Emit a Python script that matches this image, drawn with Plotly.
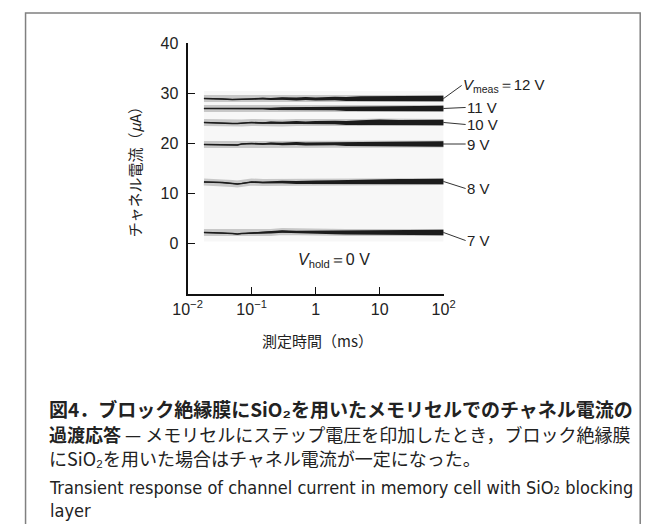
import plotly.graph_objects as go

# ---------------- data ----------------
time_ms = [0.018, 0.025, 0.035, 0.05, 0.06, 0.07, 0.1, 0.15, 0.2, 0.3, 0.5,
           0.7, 1, 2, 3, 5, 10, 20, 30, 50, 100]

series_labels = ["12 V", "11 V", "10 V", "9 V", "8 V", "7 V"]
i_12v = [29.0, 29.0, 28.9, 28.8, 28.8, 28.9, 28.9, 29.0, 28.9, 29.0, 28.9,
         29.0, 28.9, 29.0, 28.9, 29.0, 29.0, 29.0, 29.0, 29.0, 29.0]
i_11v = [27.0, 27.0, 27.0, 27.0, 27.0, 27.0, 27.0, 27.0, 26.9, 27.0, 27.0,
         26.9, 27.0, 27.0, 26.9, 27.0, 27.0, 27.0, 27.0, 27.0, 27.0]
i_10v = [24.2, 24.1, 24.1, 24.0, 24.0, 24.1, 24.2, 24.1, 24.2, 24.1, 24.2,
         24.1, 24.2, 24.2, 24.1, 24.2, 24.3, 24.2, 24.2, 24.2, 24.2]
i_9v = [19.8, 19.8, 19.7, 19.7, 19.7, 19.9, 20.0, 19.9, 20.0, 19.9, 20.0,
        19.9, 19.9, 20.0, 19.9, 19.9, 19.9, 19.9, 19.9, 19.9, 19.9]
i_8v = [12.3, 12.3, 12.2, 12.0, 11.9, 12.0, 12.3, 12.2, 12.2, 12.3, 12.2,
        12.3, 12.3, 12.3, 12.3, 12.4, 12.4, 12.4, 12.4, 12.4, 12.4]
i_7v = [2.2, 2.2, 2.1, 2.0, 1.9, 2.0, 2.1, 2.2, 2.2, 2.4, 2.3,
        2.3, 2.3, 2.2, 2.2, 2.2, 2.2, 2.2, 2.2, 2.2, 2.2]
series_values = [i_12v, i_11v, i_10v, i_9v, i_8v, i_7v]

# half-thickness of the noisy trace (µA), read along the time axis
noise_halfwidth = [0.08, 0.08, 0.08, 0.08, 0.08, 0.08, 0.12, 0.15, 0.2, 0.25,
                   0.28, 0.3, 0.32, 0.35, 0.4, 0.45, 0.5, 0.5, 0.52, 0.55, 0.55]

x_tickvals = [0.01, 0.1, 1, 10, 100]
x_ticktext = ["10<sup>−2</sup>", "10<sup>−1</sup>", "1", "10", "10<sup>2</sup>"]
y_tickvals = [0, 10, 20, 30, 40]

caption_jp = [
    "<b>図4．ブロック絶縁膜にSiO₂を用いたメモリセルでのチャネル電流の</b>",
    '<span style="font-size:18px"><b>過渡応答</b> — メモリセルにステップ電圧を印加したとき，ブロック絶縁膜</span>',
    '<span style="font-size:18px">にSiO₂を用いた場合はチャネル電流が一定になった。</span>',
]
caption_en = [
    "Transient response of channel current in memory cell with SiO₂ blocking",
    "layer",
]

# ---------------- figure ----------------
W, H = 657, 524
SANS = "Liberation Sans, Arial, sans-serif"
JP = "Noto Sans CJK JP, sans-serif"
NARROW = "Liberation Sans Narrow, DejaVu Sans Condensed, Arial Narrow, sans-serif"
fig = go.Figure()

# faint background behind the traces
lo = min(min(v) for v in series_values) - 1.5
hi = max(max(v) for v in series_values) + 1.5
fig.add_trace(go.Scatter(
    x=[time_ms[0], time_ms[-1], time_ms[-1], time_ms[0]], y=[lo, lo, hi, hi],
    fill="toself", fillcolor="#f7f7f7", line=dict(width=0), mode="lines",
    hoverinfo="skip", showlegend=False))

for vals in series_values:
    # grey halo
    fig.add_trace(go.Scatter(x=time_ms, y=vals, mode="lines",
                             line=dict(color="#c8c8c8", width=7),
                             hoverinfo="skip", showlegend=False))
    upper = [v + h for v, h in zip(vals, noise_halfwidth)]
    lower = [v - h for v, h in zip(vals, noise_halfwidth)]
    fig.add_trace(go.Scatter(x=time_ms + time_ms[::-1], y=upper + lower[::-1],
                             fill="toself", fillcolor="#1c1c1c",
                             line=dict(width=0), mode="lines",
                             hoverinfo="skip", showlegend=False))
    fig.add_trace(go.Scatter(x=time_ms, y=vals, mode="lines",
                             line=dict(color="#1c1c1c", width=1.6),
                             showlegend=False))

# right-hand labels with leader lines
label_offsets = [(18, -13), (22, -1), (22, 2), (22, 0), (22, 7), (22, 8)]
for lab, vals, (ax, ay) in zip(series_labels, series_values, label_offsets):
    txt = lab
    if lab == "12 V":
        txt = "<i>V</i><sub>meas</sub>＝12 V"
    fig.add_annotation(x=2, y=vals[-1], xref="x", yref="y", text=txt,
                       showarrow=True, arrowhead=0, arrowwidth=1,
                       arrowcolor="#333", ax=ax, ay=ay, xanchor="left",
                       yanchor="middle", standoff=0, startstandoff=0,
                       borderpad=0,
                       font=dict(size=15, color="#222", family=SANS))

fig.add_annotation(x=0.29, y=-3.3, xref="x", yref="y",
                   text="<i>V</i><sub>hold</sub>＝0 V", showarrow=False,
                   xanchor="center", yanchor="middle",
                   font=dict(size=16, color="#222", family=SANS))

# axis titles
fig.add_annotation(x=125 / W, y=1 - 163 / H, xref="paper", yref="paper",
                   text="チャネル電流（<i>μ</i>A）", textangle=-90,
                   showarrow=False, xanchor="center", yanchor="middle",
                   font=dict(size=15, color="#222", family=JP))
fig.add_annotation(x=315 / W, y=1 - 338 / H, xref="paper", yref="paper",
                   text="測定時間（ms）", showarrow=False,
                   xanchor="center", yanchor="middle",
                   font=dict(size=15, color="#222", family=JP))

# caption blocks
fig.add_annotation(x=33 / W, y=1 - 432 / H, xref="paper", yref="paper",
                   text="<br>".join(caption_jp), showarrow=False,
                   xanchor="left", yanchor="middle", align="left",
                   font=dict(size=19, color="#222", family=JP))
fig.add_annotation(x=33 / W, y=1 - 499 / H, xref="paper", yref="paper",
                   text="<br>".join(caption_en), showarrow=False,
                   xanchor="left", yanchor="middle", align="left",
                   font=dict(size=18, color="#222", family=NARROW))

# frame
fig.add_shape(type="rect", xref="paper", yref="paper",
              x0=11 / W, x1=652 / W, y0=-0.1, y1=1 - 5 / H,
              line=dict(color="#808080", width=1.5), fillcolor="rgba(0,0,0,0)")

fig.update_layout(
    width=W, height=H, margin=dict(l=0, r=0, t=0, b=0),
    paper_bgcolor="white", plot_bgcolor="white", showlegend=False,
    xaxis=dict(type="log", range=[-2, 2], domain=[180 / W, 447 / W],
               showgrid=False, zeroline=False, showline=True,
               linecolor="#111", linewidth=2, ticks="inside", ticklen=7,
               tickwidth=1.2, tickcolor="#111", tickvals=x_tickvals,
               ticktext=x_ticktext, ticklabelstandoff=0,
               tickfont=dict(size=16, color="#222", family=SANS)),
    yaxis=dict(range=[-10, 40], domain=[1 - 290 / H, 1 - 36 / H],
               showgrid=False, zeroline=False, showline=True,
               linecolor="#111", linewidth=2, ticks="inside", ticklen=7,
               tickwidth=1.2, tickcolor="#111", tickvals=y_tickvals,
               ticklabelstandoff=4,
               tickfont=dict(size=16, color="#222", family=SANS)),
)

fig.write_html("out.html")
